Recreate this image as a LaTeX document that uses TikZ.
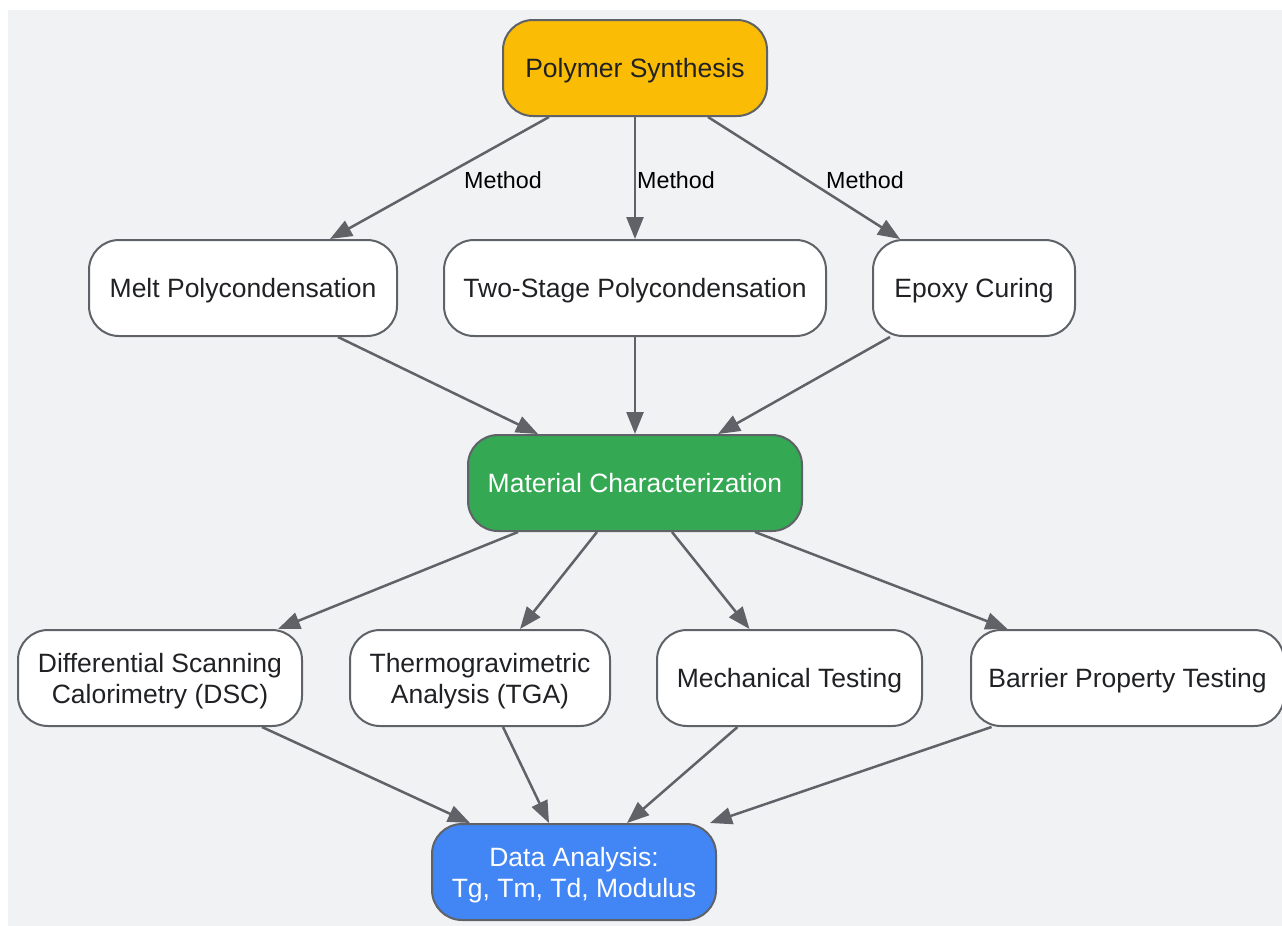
\documentclass[tikz,border=0pt]{standalone}
\usepackage{fontspec}
\setmainfont{Liberation Sans}
\usetikzlibrary{arrows.meta}

\definecolor{bggray}{RGB}{241,242,244}
\definecolor{edgegray}{RGB}{95,99,104}
\definecolor{txtdark}{RGB}{32,33,36}
\definecolor{synthyellow}{RGB}{251,188,5}
\definecolor{chargreen}{RGB}{52,168,83}
\definecolor{analblue}{RGB}{66,133,244}

\tikzset{box/.style={draw=edgegray,line width=2pt,rounded corners=30pt,fill=white,text=txtdark,
    minimum height=96pt,text depth=0pt,align=center,font=\fontsize{26.5}{31}\selectfont}}
\tikzset{flow/.style={draw=edgegray,line width=2.5pt,-{Triangle[length=22pt,width=17pt]}}}
\tikzset{methodlbl/.style={text=black,font=\fontsize{23.3}{28}\selectfont}}

\begin{document}
\begin{tikzpicture}[x=1pt,y=-1pt]
                  \useasboundingbox (0,0) rectangle (1282,926);
                  \fill[bggray] (8,10) rectangle (1282,926);
                  % top
                  \node[box,fill=synthyellow,minimum width=264pt] (ps) at (635,68) {Polymer Synthesis};
                  % synthesis routes
                  \node[box,minimum width=308pt] (melt) at (243,288) {Melt Polycondensation};
                  \node[box,minimum width=382pt] (twostage) at (635,288) {Two-Stage Polycondensation};
                  \node[box,minimum width=202pt] (epoxy) at (974,288) {Epoxy Curing};
                  \node[box,fill=chargreen,text=white,minimum width=334pt] (mc) at (635,483) {Material Characterization};
                  % tests
                  \node[box,minimum width=284pt] (dsc) at (160,678) {Differential Scanning\\Calorimetry (DSC)};
                  \node[box,minimum width=260pt] (tga) at (480,678) {Thermogravimetric\\Analysis (TGA)};
                  \node[box,minimum width=265pt] (mech) at (789.5,678) {Mechanical Testing};
                  \node[box,minimum width=313pt] (barrier) at (1127.5,678) {Barrier Property Testing};
                  \node[box,fill=analblue,text=white,minimum width=284pt] (da) at (574,872) {Data Analysis:\\Tg, Tm, Td, Modulus};
                  % edges
                  \draw[flow] ([xshift=-86pt]ps.south) -- ([xshift=87pt]melt.north);
                  \draw[flow] (ps.south) -- (twostage.north);
                  \draw[flow] ([xshift=73pt]ps.south) -- ([xshift=-74pt]epoxy.north);
                  \node[methodlbl] (m1) at (503,180) {Method};
                  \node[methodlbl] (m2) at (676,180) {Method};
                  \node[methodlbl] (m3) at (865,180) {Method};
                  \draw[flow] ([xshift=95pt]melt.south) -- ([xshift=-97pt]mc.north);
                  \draw[flow] (twostage.south) -- (mc.north);
                  \draw[flow] ([xshift=-84pt]epoxy.south) -- ([xshift=83pt]mc.north);
                  \draw[flow] ([xshift=-117pt]mc.south) -- ([xshift=118pt]dsc.north);
                  \draw[flow] ([xshift=-38pt]mc.south) -- ([xshift=40pt]tga.north);
                  \draw[flow] ([xshift=37pt]mc.south) -- ([xshift=-40pt]mech.north);
                  \draw[flow] ([xshift=120pt]mc.south) -- ([xshift=-120pt]barrier.north);
                  \draw[flow] ([xshift=102pt]dsc.south) -- ([xshift=-104pt]da.north);
                  \draw[flow] ([xshift=23pt]tga.south) -- ([xshift=-25pt]da.north);
                  \draw[flow] ([xshift=-52pt]mech.south) -- ([xshift=53pt]da.north);
                  \draw[flow] ([xshift=-136pt]barrier.south) -- ([xshift=136pt]da.north);
              \end{tikzpicture}
\end{document}
